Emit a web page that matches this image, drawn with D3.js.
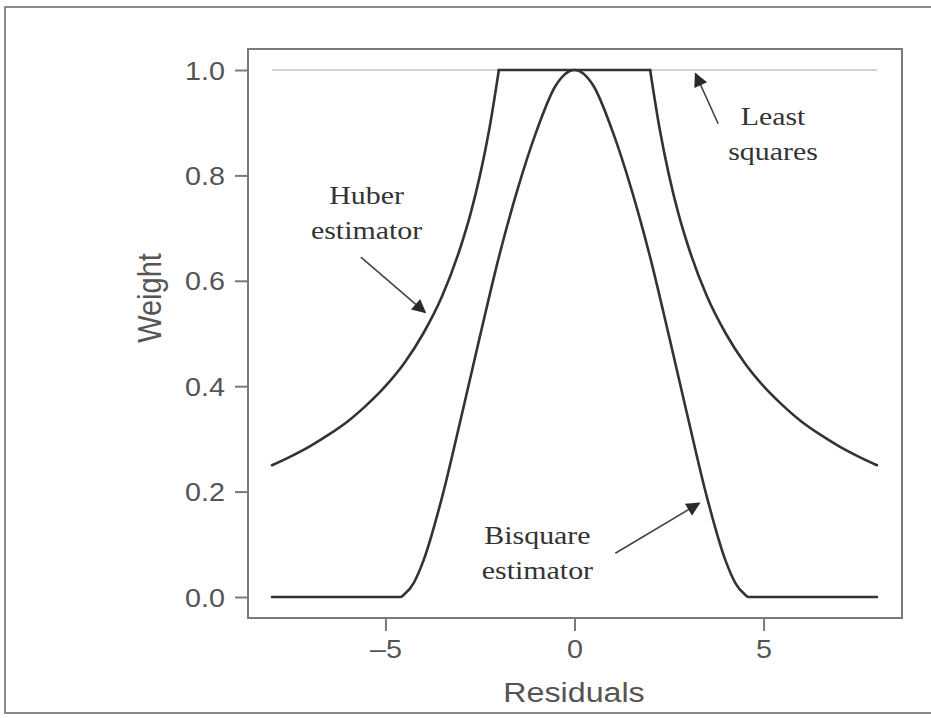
<!DOCTYPE html>
<html>
<head>
<meta charset="utf-8">
<script src="https://cdn.jsdelivr.net/npm/d3@7"></script>
<style>
  html, body { margin: 0; padding: 0; background: #fff; }
  svg { display: block; }
</style>
</head>
<body>
<svg id="chart" width="931" height="718"></svg>
<script>
// Weight functions of three regression estimators against residual size

// Huber weights (flat at 1 inside +/-2, decaying outside)
const huberX = [-8, -7.5, -7, -6.5, -6, -5.5, -5, -4.5, -4, -3.5, -3, -2.75, -2.5, -2.25, -2,
                 2, 2.25, 2.5, 2.75, 3, 3.5, 4, 4.5, 5, 5.5, 6, 6.5, 7, 7.5, 8];
const huberY = [0.25, 0.267, 0.286, 0.308, 0.333, 0.364, 0.4, 0.444, 0.5, 0.571, 0.667, 0.727, 0.8, 0.889, 1,
                 1, 0.889, 0.8, 0.727, 0.667, 0.571, 0.5, 0.444, 0.4, 0.364, 0.333, 0.308, 0.286, 0.267, 0.25];

// Bisquare weights (zero beyond about +/-4.6)
const bisqX = [-8, -4.6, -4.5, -4.25, -4, -3.5, -3, -2.5, -2, -1.5, -1, -0.5, 0,
                0.5, 1, 1.5, 2, 2.5, 3, 3.5, 4, 4.25, 4.5, 4.6, 8];
const bisqY = [0, 0, 0.005, 0.027, 0.068, 0.19, 0.34, 0.495, 0.645, 0.775, 0.885, 0.97, 1,
               0.97, 0.885, 0.775, 0.645, 0.495, 0.34, 0.19, 0.068, 0.027, 0.005, 0, 0];

// Least squares: constant weight
const lsX = [-8, 8];
const lsY = [1, 1];

const xTicks = [-5, 0, 5];
const yTicks = [0, 0.2, 0.4, 0.6, 0.8, 1.0];

// annotations: label lines, label anchor, arrow start and arrow tip (data units)
const notes = [
  { lines: ["Huber", "estimator"],   at: [-5.5, 0.745], from: [-5.65, 0.645], to: [-3.95, 0.54] },
  { lines: ["Least", "squares"],     at: [5.25, 0.895], from: [3.8, 0.898], to: [3.2, 0.993] },
  { lines: ["Bisquare", "estimator"], at: [-0.98, 0.10], from: [1.08, 0.083], to: [3.3, 0.178] }
];

const svg = d3.select("#chart");
const SX = 1.15;          // horizontal text stretch
const panel = { left: 248, right: 902, top: 49, bottom: 618 };

// outer frame
svg.append("rect")
  .attr("x", 5).attr("y", 7).attr("width", 960).attr("height", 706)
  .attr("fill", "none").attr("stroke", "#8a8a8a").attr("stroke-width", 2);

const x = d3.scaleLinear().domain([-8, 8]).range([272, 877]);
const y = d3.scaleLinear().domain([0, 1]).range([597, 70]);

// panel box
svg.append("rect")
  .attr("x", panel.left).attr("y", panel.top)
  .attr("width", panel.right - panel.left).attr("height", panel.bottom - panel.top)
  .attr("fill", "none").attr("stroke", "#7a7a7a").attr("stroke-width", 2);

// axes
const xAxis = svg.append("g")
  .attr("transform", `translate(0,${panel.bottom})`)
  .call(d3.axisBottom(x).tickValues(xTicks).tickSize(13).tickPadding(9)
        .tickFormat(d => d < 0 ? "\u2013" + Math.abs(d) : String(d)));
const yAxis = svg.append("g")
  .attr("transform", `translate(${panel.left},0)`)
  .call(d3.axisLeft(y).tickValues(yTicks).tickSize(13).tickPadding(10)
        .tickFormat(d3.format(".1f")));

[xAxis, yAxis].forEach(g => {
  g.select(".domain").remove();
  g.selectAll(".tick line").attr("stroke", "#7a7a7a").attr("stroke-width", 2);
  g.selectAll(".tick text")
    .attr("fill", "#555")
    .style("font-family", "Liberation Sans, Arial, sans-serif")
    .style("font-size", "25px");
});
xAxis.selectAll(".tick text").attr("transform", `scale(${SX},1)`);
yAxis.selectAll(".tick text")
  .attr("x", -23 / SX).attr("dy", "0.36em")
  .attr("transform", `scale(${SX},1)`);

// axis titles
svg.append("text")
  .attr("transform", `translate(574,702) scale(${SX},1)`)
  .attr("text-anchor", "middle")
  .attr("fill", "#555")
  .style("font-family", "Liberation Sans, Arial, sans-serif")
  .style("font-size", "28px")
  .text("Residuals");
svg.append("text")
  .attr("transform", `translate(161,298) scale(${SX},1) rotate(-90)`)
  .attr("text-anchor", "middle")
  .attr("fill", "#555")
  .style("font-family", "Liberation Sans, Arial, sans-serif")
  .style("font-size", "29px")
  .text("Weight");

// series
const line = d3.line().x(d => x(d[0])).y(d => y(d[1])).curve(d3.curveMonotoneX);

svg.append("path")
  .datum(d3.zip(lsX, lsY))
  .attr("d", d3.line().x(d => x(d[0])).y(d => y(d[1])))
  .attr("fill", "none").attr("stroke", "#c4c4c4").attr("stroke-width", 1.5);

const huber = d3.zip(huberX, huberY);
const huberParts = [
  huber.filter(d => d[0] <= -2),
  huber.filter(d => Math.abs(d[0]) === 2),
  huber.filter(d => d[0] >= 2)
];
huberParts.forEach(part => {
  svg.append("path")
    .datum(part)
    .attr("d", line)
    .attr("fill", "none").attr("stroke", "#333")
    .attr("stroke-width", 2.6).attr("stroke-linecap", "round").attr("stroke-linejoin", "round");
});

svg.append("path")
  .datum(d3.zip(bisqX, bisqY))
  .attr("d", line)
  .attr("fill", "none").attr("stroke", "#333")
  .attr("stroke-width", 2.6).attr("stroke-linecap", "round").attr("stroke-linejoin", "round");

// annotation arrows and labels
svg.append("defs").append("marker")
  .attr("id", "head")
  .attr("viewBox", "0 0 10 10")
  .attr("refX", 9).attr("refY", 5)
  .attr("markerWidth", 17).attr("markerHeight", 14)
  .attr("markerUnits", "userSpaceOnUse")
  .attr("orient", "auto")
  .append("path").attr("d", "M0,0 L10,5 L0,10 Z").attr("fill", "#2a2a2a");

notes.forEach(n => {
  const t = svg.append("text")
    .attr("transform", `translate(${x(n.at[0])},${y(n.at[1])}) scale(${SX},1)`)
    .attr("text-anchor", "middle")
    .attr("fill", "#333")
    .style("font-family", "Liberation Serif, Times New Roman, serif")
    .style("font-size", "26px");
  n.lines.forEach((s, i) => {
    t.append("tspan").attr("x", 0).attr("y", i * 35).text(s);
  });
  svg.append("line")
    .attr("x1", x(n.from[0])).attr("y1", y(n.from[1]))
    .attr("x2", x(n.to[0])).attr("y2", y(n.to[1]))
    .attr("stroke", "#444").attr("stroke-width", 1.6)
    .attr("marker-end", "url(#head)");
});
</script>
</body>
</html>
